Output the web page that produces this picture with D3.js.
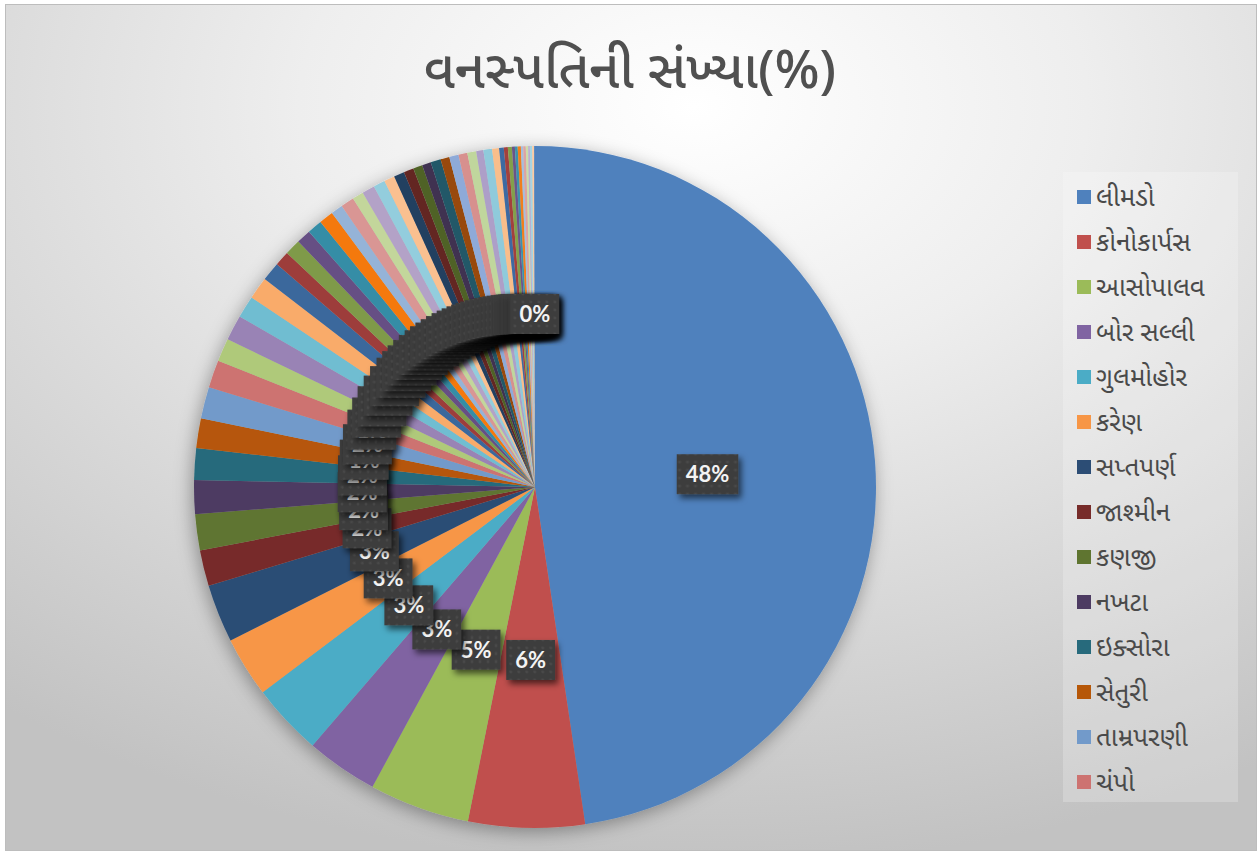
<!DOCTYPE html>
<html>
<head>
<meta charset="utf-8">
<script src="https://cdn.jsdelivr.net/npm/d3@7"></script>
<style>
  body { margin: 0; background: #fff; }
  svg { display: block; }
</style>
</head>
<body>
<div id="chart"></div>
<script>
// --------------------------------------
//  Data
// --------------------------------------

const title = "વનસ્પતિની સંખ્યા(%)";

// names shown in the legend (first 14 categories)
const plants = ["લીમડો", "કોનોકાર્પસ", "આસોપાલવ", "બોર  સલ્લી", "ગુલમોહોર", "કરેણ", "સપ્તપર્ણ",
  "જાશ્મીન", "કણજી", "નખટા", "ઇક્સોરા", "સેતુરી", "તામ્રપરણી", "ચંપો"];

// share of every slice (%)
const shares = [47.6, 5.5, 4.75, 3.4, 3.4, 2.85, 2.75, 1.7, 1.7, 1.6, 1.5, 1.4, 1.5, 1.3,
  1.1, 1.2, 1.05, 1.05, 0.9, 0.7, 0.75, 0.68, 0.7, 0.68, 0.56, 0.63, 0.53, 0.6, 0.55,
  0.5, 0.5, 0.47, 0.44, 0.42, 0.48, 0.42, 0.44, 0.42, 0.42, 0.34, 0.41, 0.33,
  0.22, 0.19, 0.19, 0.14, 0.13, 0.15, 0.11, 0.12, 0.11, 0.08, 0.11, 0.09, 0.04];

const colors = [
  "#4F81BD", "#C0504D", "#9BBB59", "#8064A2", "#4BACC6", "#F79646",
  "#2C4D75", "#772C2A", "#5F7530", "#4D3B62", "#276A7C", "#B65708",
  "#729ACA", "#CD7371", "#AFC97A", "#9983B5", "#6FBDD1", "#F9AB6B",
  "#3A679C", "#9D3D3A", "#7F9A48", "#664F84", "#358DA6", "#F4790E",
  "#95B3D7", "#D99694", "#C3D69B", "#B3A2C7", "#93CDDD", "#FAC090",
  "#243F60", "#632523", "#4F6228", "#3F3151", "#215968", "#984807",
  "#8EAAD8", "#D7908E", "#C0D69D", "#AD9FC8", "#8FCADB", "#F9BE8B",
  "#3D6BA2", "#A3403D", "#83A04C", "#6B5489", "#3A93AC", "#F07F1F",
  "#A5BEDE", "#DDA3A2", "#CCDDAA", "#BCAED0", "#A5D5E3", "#FBCBA3"
];

// --------------------------------------
//  Canvas
// --------------------------------------

const width = 1260;
const height = 853;
const cx = 535, cy = 487, radius = 341;

const svg = d3.select("#chart")
  .append("svg")
    .attr("width", width)
    .attr("height", height);

const defs = svg.append("defs");

const bg = defs.append("radialGradient")
    .attr("id", "bg")
    .attr("cx", "55%").attr("cy", "12%").attr("r", "90%");
bg.append("stop").attr("offset", "0%").attr("stop-color", "#ffffff");
bg.append("stop").attr("offset", "35%").attr("stop-color", "#eeeeee");
bg.append("stop").attr("offset", "100%").attr("stop-color", "#c2c2c2");

const pieShadow = defs.append("filter")
    .attr("id", "pieShadow")
    .attr("x", "-20%").attr("y", "-20%").attr("width", "140%").attr("height", "140%");
pieShadow.append("feDropShadow")
    .attr("dx", -2).attr("dy", 4).attr("stdDeviation", 9)
    .attr("flood-color", "#000").attr("flood-opacity", 0.35);

const boxShadow = defs.append("filter")
    .attr("id", "boxShadow")
    .attr("x", "-30%").attr("y", "-30%").attr("width", "170%").attr("height", "170%");
boxShadow.append("feDropShadow")
    .attr("dx", 3).attr("dy", 4).attr("stdDeviation", 3)
    .attr("flood-color", "#000").attr("flood-opacity", 0.6);

const dots = defs.append("pattern")
    .attr("id", "dots")
    .attr("patternUnits", "userSpaceOnUse")
    .attr("width", 8).attr("height", 8);
dots.append("rect").attr("width", 8).attr("height", 8).attr("fill", "#3d3d3d");
dots.append("circle").attr("cx", 4).attr("cy", 4).attr("r", 1.4).attr("fill", "#4a4a4a");

svg.append("rect")
    .attr("x", 5.5).attr("y", 4.5)
    .attr("width", 1251).attr("height", 846)
    .attr("fill", "url(#bg)")
    .attr("stroke", "#bdbdbd");

// --------------------------------------
//  Title
// --------------------------------------

svg.append("text")
    .attr("x", 630)
    .attr("y", 88)
    .attr("text-anchor", "middle")
    .attr("font-family", "'Noto Sans Gujarati', 'Noto Sans', sans-serif")
    .attr("font-size", 53)
    .attr("font-weight", 500)
    .attr("fill", "#505050")
    .text(title);

// --------------------------------------
//  Pie
// --------------------------------------

const pie = d3.pie().sort(null).value(d => d);
const arcs = pie(shares);
const total = d3.sum(shares);
const pct = d3.format(".0%");

const arc = d3.arc().innerRadius(0).outerRadius(radius);
const labelArc = d3.arc().innerRadius(173).outerRadius(173);

const pieG = svg.append("g")
    .attr("transform", `translate(${cx}, ${cy})`);

pieG.append("g")
    .attr("filter", "url(#pieShadow)")
  .selectAll("path")
  .data(arcs)
  .join("path")
    .attr("d", arc)
    .attr("fill", (d, i) => colors[i % colors.length]);

// labels, later ones on top
const labels = pieG.append("g")
  .selectAll("g")
  .data(arcs)
  .join("g")
    .attr("transform", d => `translate(${labelArc.centroid(d)})`);

labels.append("text")
    .attr("text-anchor", "middle")
    .attr("dy", "0.36em")
    .attr("font-family", "Lato, 'Open Sans', sans-serif")
    .attr("font-weight", "bold")
    .attr("font-size", 22)
    .attr("fill", "#f4f4f4")
    .text(d => pct(d.data / total));

labels.each(function() {
  const g = d3.select(this);
  const w = g.select("text").node().getComputedTextLength() + 18;
  g.insert("rect", "text")
      .attr("x", -w / 2).attr("y", -20)
      .attr("width", w).attr("height", 40)
      .attr("fill", "url(#dots)")
      .attr("filter", "url(#boxShadow)");
});

// --------------------------------------
//  Legend
// --------------------------------------

const legend = svg.append("g");

legend.append("rect")
    .attr("x", 1063).attr("y", 172)
    .attr("width", 175).attr("height", 630)
    .attr("fill", "#ffffff")
    .attr("fill-opacity", 0.22);

const rows = legend.selectAll(".row")
  .data(plants)
  .join("g")
    .attr("class", "row")
    .attr("transform", (d, i) => `translate(1077, ${197 + i * 45})`);

rows.append("rect")
    .attr("x", 0).attr("y", -7)
    .attr("width", 14).attr("height", 14)
    .attr("fill", (d, i) => colors[i]);

rows.append("text")
    .attr("x", 19)
    .attr("dy", "0.35em")
    .attr("font-family", "'Noto Sans Gujarati', 'Noto Sans', sans-serif")
    .attr("font-size", 26)
    .attr("fill", "#4a4a4a")
    .text(d => d);
</script>
</body>
</html>
